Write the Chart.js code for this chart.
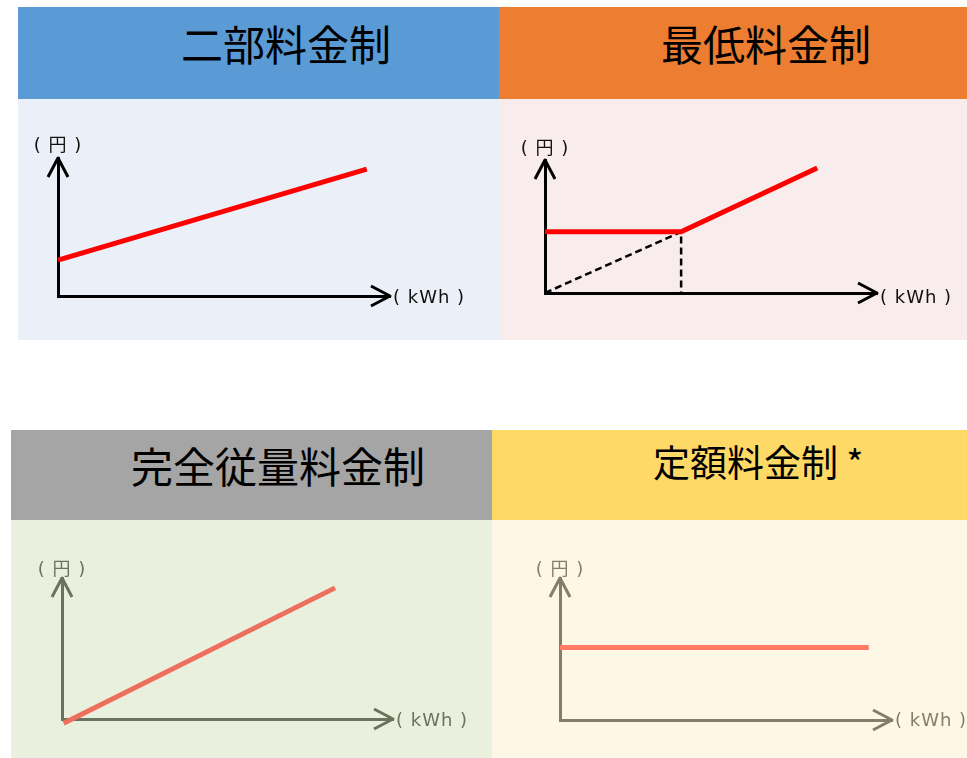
<!DOCTYPE html>
<html>
<head>
<meta charset="utf-8">
<script src="https://cdn.jsdelivr.net/npm/chart.js@4.4.1/dist/chart.umd.min.js"></script>
<style>
body{margin:0;width:967px;height:758px;background:#fff;position:relative;overflow:hidden;font-family:"Noto Sans CJK JP",sans-serif}
.box{position:absolute}
.title{position:absolute;font-size:42px;line-height:1;color:#000;white-space:nowrap}
.lab{position:absolute;font-family:"DejaVu Sans","Noto Sans CJK JP",sans-serif;font-size:18px;line-height:1;letter-spacing:1px;white-space:pre}
canvas{position:absolute}
</style>
</head>
<body>
<div class="box" style="left:18px;top:7px;width:481px;height:92px;background:#5B9BD5"></div>
<div class="box" style="left:499px;top:7px;width:468px;height:92px;background:#ED7D31"></div>
<div class="box" style="left:18px;top:99px;width:481px;height:241px;background:#EBF0F8"></div>
<div class="box" style="left:499px;top:99px;width:468px;height:241px;background:#F8ECEC"></div>
<div class="box" style="left:11px;top:430px;width:481px;height:90px;background:#A5A5A5"></div>
<div class="box" style="left:492px;top:430px;width:475px;height:90px;background:#FFD966"></div>
<div class="box" style="left:11px;top:520px;width:481px;height:238px;background:#E9F0DD"></div>
<div class="box" style="left:492px;top:520px;width:475px;height:238px;background:#FFF7E5"></div>

<div class="title" style="left:181px;top:22px">二部料金制</div>
<div class="title" style="left:661px;top:22px">最低料金制</div>
<div class="title" style="left:131px;top:444px">完全従量料金制</div>
<div class="title" style="left:653px;top:443px;font-size:37px">定額料金制 *</div>

<canvas id="c1" width="481" height="241" style="left:18px;top:99px"></canvas>
<canvas id="c2" width="468" height="241" style="left:499px;top:99px"></canvas>
<canvas id="c3" width="481" height="238" style="left:11px;top:520px"></canvas>
<canvas id="c4" width="475" height="238" style="left:492px;top:520px"></canvas>

<script>
const yLabel = '( 円 )'
const xLabel = '( kWh )'

// 二部料金制
const twoPartX = [0, 9.3]
const twoPartY = [2.6, 9.2]
// 最低料金制
const minChargeX = [0, 4.1, 8.2]
const minChargeY = [4.6, 4.6, 9.4]
const minGuideX = [0, 4.1, 4.1]
const minGuideY = [0, 4.6, 0]
// 完全従量料金制
const meteredX = [0.05, 8.25]
const meteredY = [-0.3, 9.3]
// 定額料金制
const flatX = [0, 9.3]
const flatY = [5.1, 5.1]

const pts = (xs, ys) => xs.map((x, i) => ({x: x, y: ys[i]}))

// arrow heads at the ends of both axes
const arrowAxes = {
    id: 'arrowAxes',
    afterDraw(chart, args, opts) {
        const {ctx, chartArea: {left, top, right, bottom}} = chart
        ctx.save()
        ctx.strokeStyle = opts.color
        ctx.lineWidth = 3
        ctx.lineJoin = 'round'
        ctx.beginPath()
        ctx.moveTo(left - 10, top + 19)
        ctx.lineTo(left, top)
        ctx.lineTo(left + 10, top + 19)
        ctx.moveTo(right - 19, bottom - 10)
        ctx.lineTo(right, bottom)
        ctx.lineTo(right - 19, bottom + 10)
        ctx.stroke()
        ctx.restore()
    }
}

function axis(color) {
    return {
        type: 'linear', min: 0, max: 10,
        ticks: {display: false},
        grid: {display: false, drawTicks: false},
        border: {display: true, color: color, width: 3}
    }
}

function addLabel(text, x, y, color, centered) {
    const el = document.createElement('div')
    el.className = 'lab'
    el.textContent = text
    el.style.color = color
    el.style.left = x + 'px'
    el.style.top = y + 'px'
    el.style.transform = centered ? 'translate(-50%,-50%)' : 'translate(0,-50%)'
    document.body.appendChild(el)
}

function makeChart(id, datasets, pad, axisColor, textColor, yGap, xDy) {
    const canvas = document.getElementById(id)
    const chart = new Chart(canvas.getContext('2d'), {
        type: 'line',
        data: {datasets: datasets},
        options: {
            responsive: false,
            animation: false,
            events: [],
            layout: {padding: pad},
            scales: {x: axis(axisColor), y: axis(axisColor)},
            plugins: {
                legend: {display: false},
                tooltip: {enabled: false},
                arrowAxes: {color: axisColor}
            }
        },
        plugins: [arrowAxes]
    })
    const ox = canvas.offsetLeft, oy = canvas.offsetTop
    const a = chart.chartArea
    addLabel(yLabel, ox + a.left, oy + a.top - yGap, textColor, true)
    addLabel(xLabel, ox + a.right + 3, oy + a.bottom + xDy, textColor, false)
    return chart
}

const solid = (data, color) => ({data: data, borderColor: color, borderWidth: 5, pointRadius: 0, clip: false})

makeChart('c1', [solid(pts(twoPartX, twoPartY), '#FF0000')],
    {left: 40, top: 59, right: 109, bottom: 44}, '#000000', '#111111', 13, 1)

makeChart('c2', [
    solid(pts(minChargeX, minChargeY), '#FF0000'),
    {data: pts(minGuideX, minGuideY), borderColor: '#000000', borderWidth: 2.5, borderDash: [7, 4], pointRadius: 0, clip: false}
], {left: 46, top: 61, right: 90, bottom: 47}, '#000000', '#111111', 12, 4)

makeChart('c3', [solid(pts(meteredX, meteredY), '#EE6F5C')],
    {left: 51, top: 58, right: 99, bottom: 39}, '#6B735C', '#6B735C', 9, 1)

makeChart('c4', [solid(pts(flatX, flatY), '#FF7B66')],
    {left: 68, top: 58, right: 75, bottom: 38}, '#847D67', '#847D67', 9, 0)
</script>
</body>
</html>
